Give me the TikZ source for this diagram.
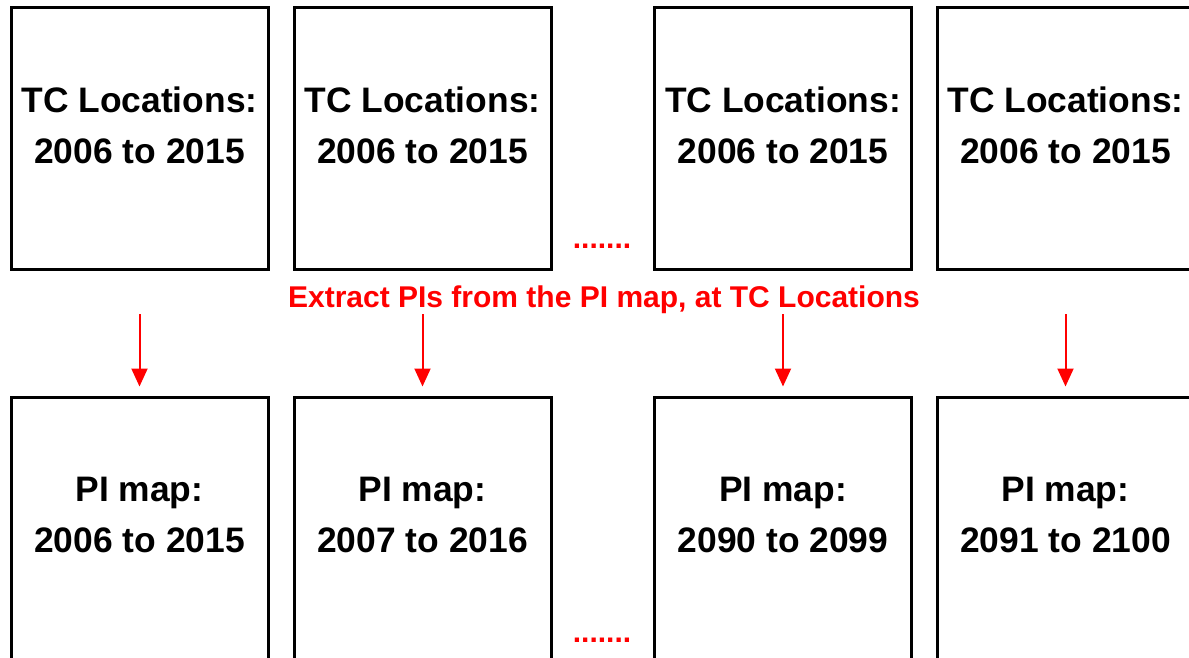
\documentclass[tikz,border=0pt]{standalone}
\usepackage{fontspec}
\setmainfont{Liberation Sans}
\usepackage{tikz}
\usepackage{xcolor}
\usetikzlibrary{arrows.meta}

\tikzset{
  mapbox/.style={draw, line width=1.5pt, minimum width=128.5pt, minimum height=131pt, inner sep=0pt},
  boxtext/.style={align=center, font=\bfseries\fontsize{17.7}{25.5}\selectfont},
  redtext/.style={text=red, font=\bfseries\fontsize{15}{18}\selectfont},
  extract/.style={draw=red, line width=1pt, -{Triangle[length=9pt,width=8pt]}, shorten <=21.5pt, shorten >=4.5pt}
}

\begin{document}
\begin{tikzpicture}[x=0.5pt, y=-0.5pt]
	\useasboundingbox (0,0) rectangle (1189,658);
	\clip (0,0) rectangle (1189,658);
	
	% TC locations (top row)
	\node[mapbox] (tc1) at (139.5,138.5) {};
	\node[mapbox] (tc2) at (422.5,138.5) {};
	\node[mapbox] (tc3) at (783,138.5) {};
	\node[mapbox] (tc4) at (1065.5,138.5) {};
	\node[boxtext] (tct1) at (139.5,125.5) {TC Locations:\\2006 to 2015};
	\node[boxtext] (tct2) at (422.5,125.5) {TC Locations:\\2006 to 2015};
	\node[boxtext] (tct3) at (783,125.5) {TC Locations:\\2006 to 2015};
	\node[boxtext] (tct4) at (1065.5,125.5) {TC Locations:\\2006 to 2015};
	\node[redtext] (dotstop) at (602,246) {.......};
	
	% Extraction step
	\node[redtext, anchor=base] (extract) at (604,307) {Extract PIs from the PI map, at TC Locations};
	
	% PI maps (bottom row)
	\node[mapbox] (pi1) at (139.5,528) {};
	\node[mapbox] (pi2) at (422.5,528) {};
	\node[mapbox] (pi3) at (783,528) {};
	\node[mapbox] (pi4) at (1065.5,528) {};
	\node[boxtext] (pit1) at (139.5,515) {PI map:\\2006 to 2015};
	\node[boxtext] (pit2) at (422.5,515) {PI map:\\2007 to 2016};
	\node[boxtext] (pit3) at (783,515) {PI map:\\2090 to 2099};
	\node[boxtext] (pit4) at (1065.5,515) {PI map:\\2091 to 2100};
	\node[redtext] (dotsbottom) at (602,640) {.......};
	
	% Arrows
	\draw[extract] (tc1.south) -- (pi1.north);
	\draw[extract] (tc2.south) -- (pi2.north);
	\draw[extract] (tc3.south) -- (pi3.north);
	\draw[extract] (tc4.south) -- (pi4.north);
\end{tikzpicture}
\end{document}
